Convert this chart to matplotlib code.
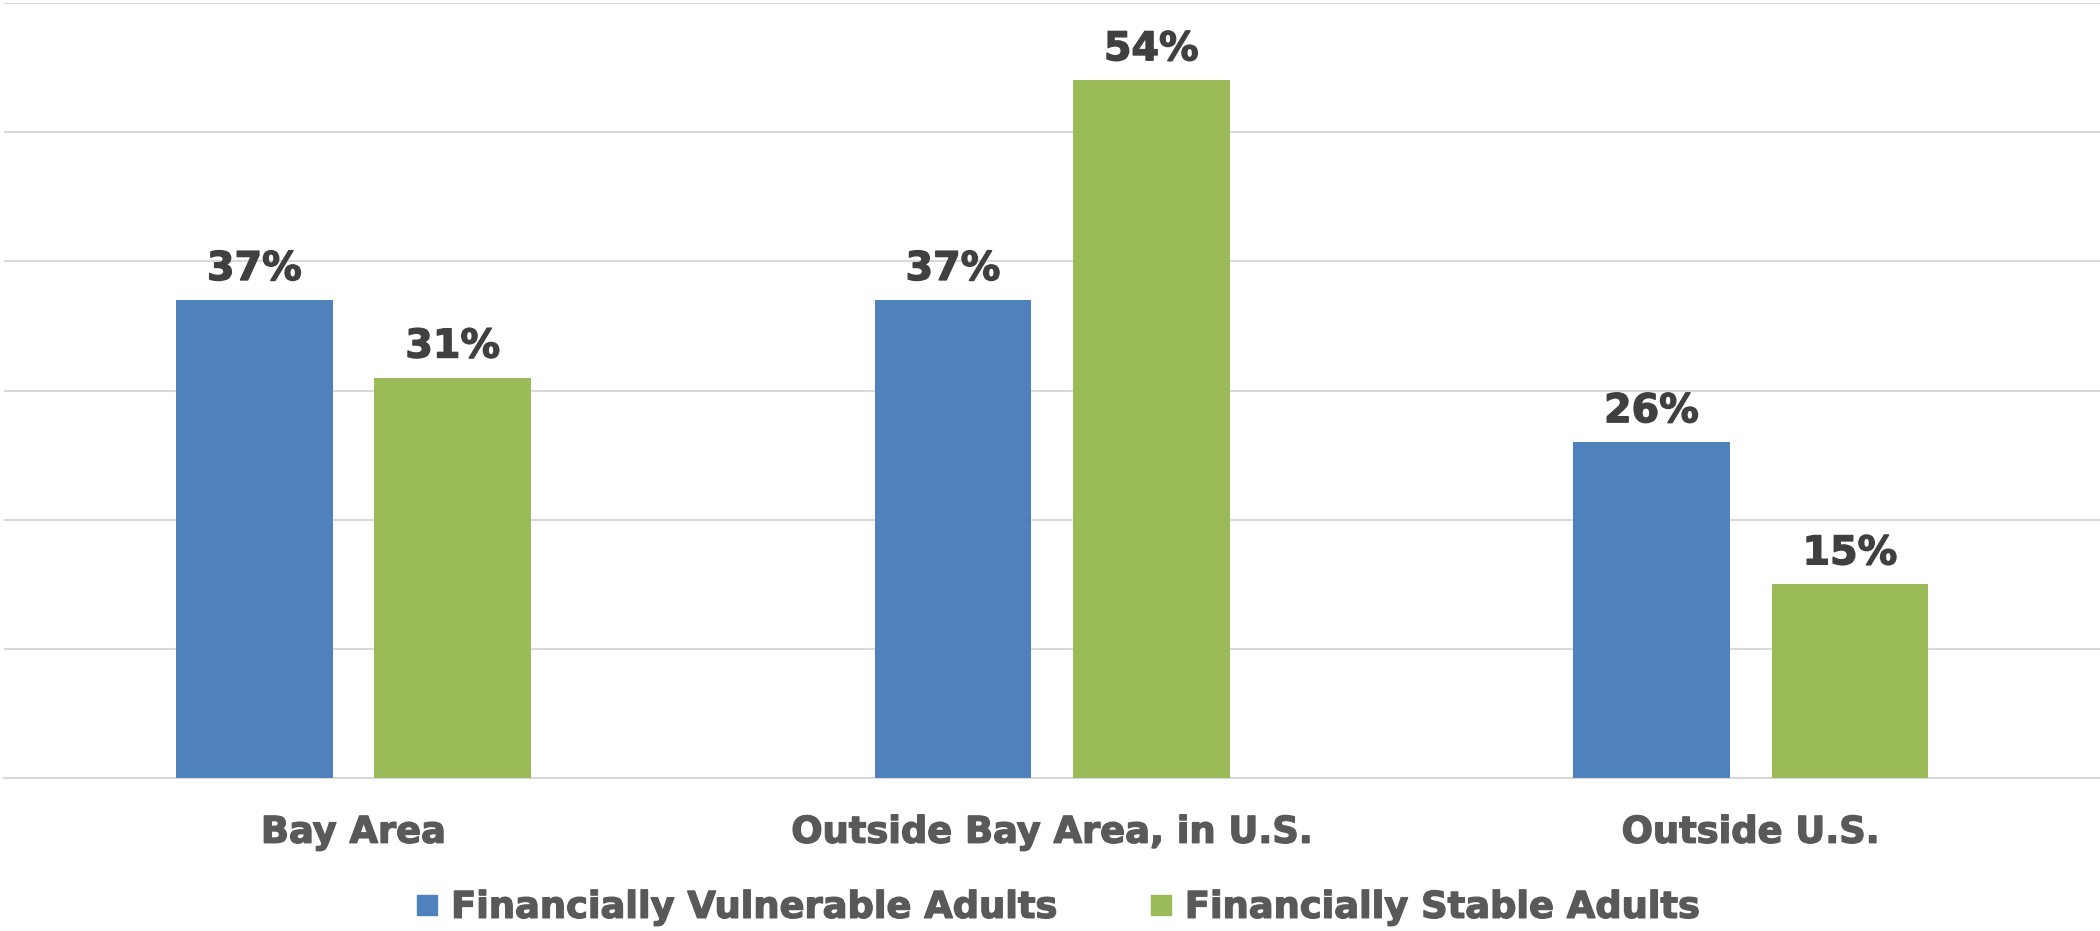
import numpy as np
import matplotlib.pyplot as plt
import matplotlib.patheffects as pe
from matplotlib.lines import Line2D

# data
categories = ['Bay Area', 'Outside Bay Area, in U.S.', 'Outside U.S.']
series_names = ['Financially Vulnerable Adults', 'Financially Stable Adults']
vulnerable = [37, 37, 26]
stable = [31, 54, 15]

blue = '#4F81BD'
green = '#9BBB59'
grid_col = '#D9D9D9'

plt.rcParams['font.family'] = ['DejaVu Sans']
plt.rcParams['font.weight'] = 'bold'

fig = plt.figure(figsize=(21, 9.31), dpi=100)
ax = fig.add_axes([0.002, 0.164, 0.998, 0.833])

x = np.arange(len(categories))
w = 0.224
off = 0.142
b1 = ax.bar(x - off, vulnerable, w, color=blue, zorder=3)
b2 = ax.bar(x + off, stable, w, color=green, zorder=3)

# a thin stroke to get closer to the heavy Verdana look
heavy = lambda c: [pe.withStroke(linewidth=1.0, foreground=c)]

# value labels above each bar
for bars, vals in [(b1, vulnerable), (b2, stable)]:
    for rect, v in zip(bars, vals):
        ax.annotate(f'{v}%', (rect.get_x() + rect.get_width() / 2, v),
                    xytext=(0, 8), textcoords='offset points',
                    ha='center', va='bottom', fontsize=28.5,
                    fontweight='bold', color='#404040',
                    path_effects=heavy('#404040'))

ax.set_xlim(-0.5, 2.5)
ax.set_ylim(0, 60)
ax.set_yticks(np.arange(0, 61, 10))
ax.yaxis.grid(True, color=grid_col, linewidth=1.5, zorder=0)
ax.tick_params(axis='y', left=False, labelleft=False)
ax.tick_params(axis='x', bottom=False, pad=22)
ax.set_xticks(x)
ax.set_xticklabels(categories, fontsize=26.5, fontweight='bold', color='#595959')
for t in ax.get_xticklabels():
    t.set_path_effects(heavy('#595959'))
for s in ['top', 'right', 'left']:
    ax.spines[s].set_visible(False)
ax.spines['bottom'].set_color(grid_col)
ax.spines['bottom'].set_linewidth(1.5)

handles = [Line2D([], [], marker='s', linestyle='none', markersize=15,
                  markerfacecolor=c, markeredgecolor=c) for c in (blue, green)]
leg = fig.legend(handles, series_names, loc='lower center', ncol=2,
                 bbox_to_anchor=(0.503, -0.03), frameon=False, fontsize=26.5,
                 handlelength=0.8, handletextpad=0.25, columnspacing=2.4,
                 labelcolor='#595959')
for t in leg.get_texts():
    t.set_fontweight('bold')
    t.set_path_effects(heavy('#595959'))

fig.savefig('out.png', dpi=100)
